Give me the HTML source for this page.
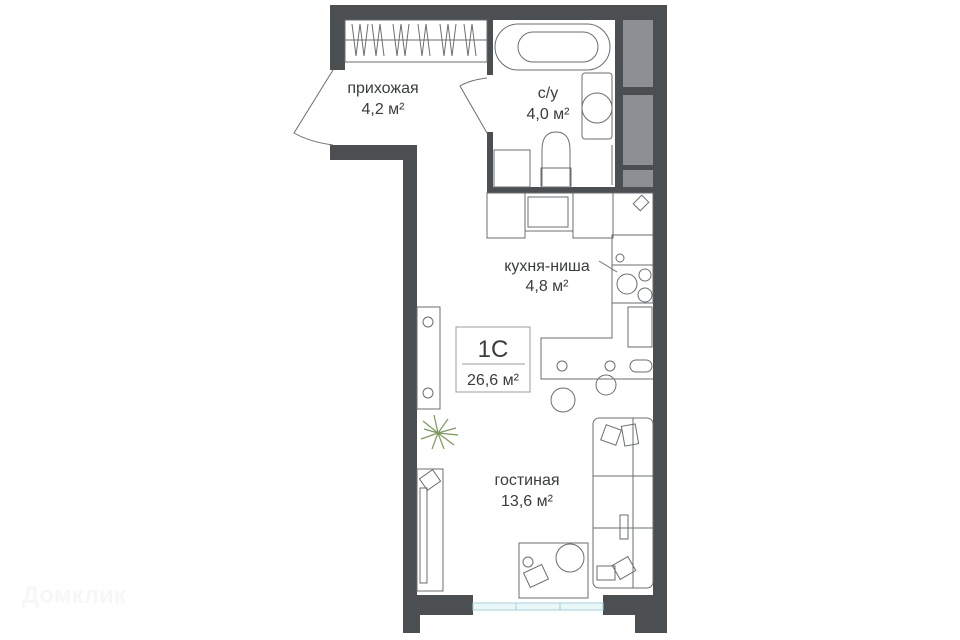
<!DOCTYPE html>
<html><head><meta charset="utf-8"><style>
html,body{margin:0;padding:0;background:#fff;width:960px;height:640px;overflow:hidden}
svg{display:block}
text{font-family:"Liberation Sans",sans-serif;fill:#3a3d3f}
</style></head><body>
<svg width="960" height="640" viewBox="0 0 960 640" xmlns="http://www.w3.org/2000/svg">
<text x="22" y="603" font-size="24" font-weight="bold" style="fill:#f7f7f7">Домклик</text>
<g fill="#8d8f94">
<rect x="623" y="20" width="30" height="67"/>
<rect x="623" y="95" width="30" height="70"/>
<rect x="623" y="170" width="30" height="17"/>
</g>
<g fill="#4b4f51">
<rect x="330" y="5" width="337" height="15"/>
<rect x="330" y="5" width="15" height="65"/>
<rect x="653" y="5" width="14" height="628"/>
<rect x="330" y="145" width="87" height="15"/>
<rect x="403" y="145" width="14" height="488"/>
<rect x="403" y="595" width="70" height="20"/>
<rect x="403" y="595" width="17" height="38"/>
<rect x="603" y="595" width="64" height="20"/>
<rect x="635" y="595" width="32" height="38"/>
<rect x="487" y="20" width="6" height="55"/>
<rect x="487" y="132" width="6" height="61"/>
<rect x="487" y="187" width="166" height="6"/>
<rect x="615" y="20" width="8" height="167"/>
<rect x="623" y="87" width="30" height="8"/>
<rect x="623" y="165" width="30" height="5"/>
</g>
<g stroke="#9fd3dd" stroke-width="1" fill="#eaf7f9">
<rect x="473" y="603" width="130" height="7"/>
<line x1="516" y1="603" x2="516" y2="610"/><line x1="560" y1="603" x2="560" y2="610"/>
</g>
<g fill="none" stroke="#6a6d70" stroke-width="1">
<rect x="345" y="20" width="142" height="42"/>
<line x1="345" y1="40" x2="487" y2="40"/>
<path d="M352 24 l4 32 l4 -32 l4 32 l4 -32 M372 24 l4 32 l4 -32 l4 32 M393 24 l4 32 l4 -32 l4 32 l4 -32 M418 24 l4 32 l4 -32 l4 32 M440 24 l4 32 l4 -32 l4 32 l4 -32 M464 24 l4 32 l4 -32 l4 32"/>
<path d="M333 70 L294 133 Q310 142 333 145"/>
<path d="M487 78 Q470 80 460 86 L487 133"/>
<rect x="495" y="24" width="115" height="46" rx="23"/>
<rect x="518" y="32" width="80" height="30" rx="15"/>
<rect x="582" y="73" width="30" height="66" rx="3"/>
<circle cx="597" cy="108" r="15"/>
<path d="M542 186 L542 150 Q542 132 556 132 Q570 132 570 150 L570 186"/>
<rect x="541" y="168" width="30" height="19"/>
<rect x="494" y="150" width="36" height="37"/>
<line x1="612" y1="145" x2="612" y2="185"/>
<rect x="487" y="193" width="38" height="45"/>
<rect x="525" y="193" width="48" height="38"/>
<rect x="528" y="197" width="40" height="30"/>
<rect x="573" y="193" width="40" height="45"/>
<rect x="613" y="193" width="40" height="42"/>
<rect x="612" y="235" width="41" height="30"/>
<rect x="612" y="265" width="41" height="38"/>
<circle cx="627" cy="284" r="10"/><circle cx="645" cy="275" r="6"/><circle cx="645" cy="295" r="7"/>
<circle cx="620" cy="258" r="4"/>
<line x1="599" y1="261" x2="617" y2="272"/>
<rect x="636" y="197" width="10" height="12" transform="rotate(45 641 203)"/>
<path d="M612 303 L612 338 L541 338 L541 379 L653 379"/>
<rect x="628" y="307" width="24" height="40"/>
<circle cx="562" cy="366" r="5"/><circle cx="610" cy="366" r="5"/>
<rect x="630" y="360" width="22" height="12" rx="6"/>
<circle cx="563" cy="400" r="12"/><circle cx="606" cy="385" r="10"/>
<rect x="456" y="327" width="74" height="65" stroke="#9a9da0"/>
<line x1="462" y1="364" x2="525" y2="364" stroke="#9a9da0"/>
<rect x="417" y="307" width="23" height="102"/>
<circle cx="428" cy="322" r="5"/><circle cx="428" cy="393" r="5"/>
<rect x="417" y="469" width="26" height="122"/>
<rect x="420" y="488" width="7" height="95"/>
<rect x="422" y="473" width="16" height="14" transform="rotate(-35 430 480)"/>
<rect x="593" y="418" width="60" height="170" rx="6"/>
<line x1="593" y1="476" x2="653" y2="476"/><line x1="593" y1="528" x2="653" y2="528"/>
<line x1="633" y1="418" x2="633" y2="588"/>
<rect x="603" y="427" width="16" height="16" transform="rotate(20 611 435)"/>
<rect x="623" y="425" width="14" height="20" transform="rotate(-10 630 435)"/>
<rect x="620" y="515" width="8" height="24"/>
<rect x="597" y="566" width="18" height="14"/><rect x="615" y="560" width="18" height="16" transform="rotate(-30 624 568)"/>
<rect x="519" y="543" width="69" height="55"/>
<circle cx="570" cy="558" r="14"/>
<circle cx="528" cy="562" r="5"/>
<rect x="526" y="568" width="20" height="16" transform="rotate(-25 536 576)"/>
</g>
<g stroke="#7c9a5a" stroke-width="1.2">
<path d="M438 433 l-15 -12 M438 433 l18 -5 M438 433 l-4 -18 M438 433 l10 -14 M438 433 l-17 6 M438 433 l16 12 M438 433 l-6 16 M438 433 l6 16 M438 433 l-14 -4 M438 433 l20 2"/>
</g>
<g font-size="16" text-anchor="middle">
<text x="383" y="93">прихожая</text>
<text x="383" y="114">4,2 м²</text>
<text x="548" y="98">с/у</text>
<text x="548" y="119">4,0 м²</text>
<text x="547" y="271">кухня-ниша</text>
<text x="547" y="291">4,8 м²</text>
<text x="527" y="485">гостиная</text>
<text x="527" y="506">13,6 м²</text>
<text x="493" y="385">26,6 м²</text>
<text x="493" y="357" font-size="24">1С</text>
</g>
</svg>
</body></html>
